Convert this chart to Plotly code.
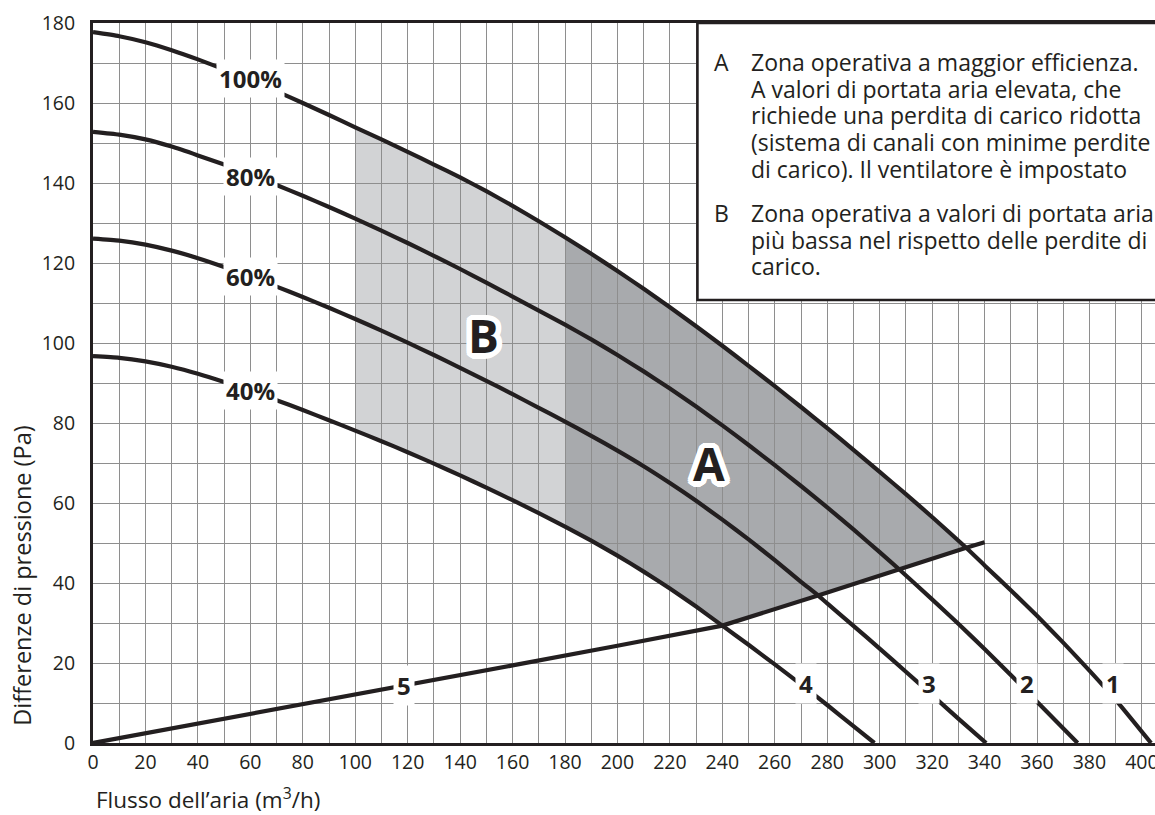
import math
import plotly.graph_objects as go

FONT = "Open Sans"
INK = "#231f20"
GRID = "#8e8e8e"
FILL_B = "#d2d3d5"
FILL_A = "#a8aaad"

# ---------------- data ----------------
curve1_x = [0, 10, 20, 30, 40, 50, 60, 70, 80, 90, 100, 110, 120, 130, 140, 150, 160, 170, 180, 190,
            200, 210, 220, 230, 240, 250, 260, 270, 280, 290, 300, 310, 320, 333, 340, 350, 360, 370,
            380, 390, 403.5]
curve1_y = [177.7, 176.7, 175.2, 173.2, 170.9, 168.4, 165.7, 162.9, 160.0, 157.0, 153.9, 150.9, 147.8,
            144.6, 141.4, 137.95, 134.3, 130.45, 126.45, 122.3, 118.0, 113.55, 108.95, 104.2, 99.3,
            94.3, 89.2, 84.0, 78.7, 73.3, 67.8, 62.2, 56.5, 48.8, 44.4, 38.2, 31.8, 25.1, 18.1, 10.8, 0]

curve2_x = [0, 10, 20, 30, 40, 50, 60, 70, 80, 90, 100, 110, 120, 130, 140, 150, 160, 170, 180, 190,
            200, 210, 220, 230, 240, 250, 260, 270, 280, 290, 300, 307.3, 320, 330, 340, 350, 360, 375.5]
curve2_y = [152.8, 152.1, 150.9, 149.1, 146.9, 144.6, 142.1, 139.5, 136.8, 134.0, 131.1, 128.1, 125.0,
            121.8, 118.5, 115.1, 111.6, 108.1, 104.6, 100.9, 97.0, 92.9, 88.6, 84.1, 79.4, 74.5, 69.45,
            64.25, 58.9, 53.4, 47.7, 43.5, 35.9, 29.8, 23.5, 17.0, 10.3, 0]

curve3_x = [0, 10, 20, 30, 40, 50, 60, 70, 80, 90, 100, 110, 120, 130, 140, 150, 160, 170, 180, 190,
            200, 210, 220, 230, 240, 250, 260, 270, 276.5, 280, 290, 300, 310, 320, 330, 340.6]
curve3_y = [126.1, 125.6, 124.6, 123.1, 121.2, 119.0, 116.6, 114.1, 111.5, 108.8, 106.0, 103.1, 100.1,
            97.0, 93.8, 90.55, 87.2, 83.8, 80.35, 76.8, 73.1, 69.2, 65.0, 60.55, 55.85, 50.9, 45.7,
            40.3, 36.9, 34.9, 29.3, 23.6, 17.8, 12.0, 6.1, 0]

curve4_x = [0, 10, 20, 30, 40, 50, 60, 70, 80, 90, 100, 110, 120, 130, 140, 150, 160, 170, 180, 190,
            200, 210, 220, 230, 240, 250, 260, 270, 280, 290, 298]
curve4_y = [96.7, 96.3, 95.4, 94.05, 92.3, 90.25, 88.05, 85.7, 83.25, 80.7, 78.1, 75.45, 72.7, 69.85,
            66.9, 63.85, 60.7, 57.45, 54.1, 50.6, 46.85, 42.85, 38.6, 34.1, 29.35, 24.55, 19.65, 14.65,
            9.5, 4.2, 0]

line5_x = [0, 40, 80, 120, 160, 200, 240, 276.5, 307.3, 333, 340]
line5_y = [0, 4.8, 9.7, 14.5, 19.4, 24.3, 29.35, 36.9, 43.5, 48.8, 50.2]

pct_labels = ["100%", "80%", "60%", "40%"]
pct_label_x = [60, 60, 60, 60]
pct_label_y = [166.2, 141.6, 116.6, 88.25]
num_labels = ["1", "2", "3", "4", "5"]
num_label_x = [389, 356, 319, 272, 118.5]
num_label_y = [15, 15, 15, 15, 14.4]

zone_B_x = (100, 180)
zone_A_x = (180, 333)
zone_A_knee = 240
zone_labels = {"B": (148.9, 102.0), "A": (235.0, 69.9)}

legend_A_lines = ["Zona operativa a maggior efficienza.",
                  "A valori di portata aria elevata, che",
                  "richiede una perdita di carico ridotta",
                  "(sistema di canali con minime perdite",
                  "di carico). Il ventilatore è impostato"]
legend_B_lines = ["Zona operativa a valori di portata aria",
                  "più bassa nel rispetto delle perdite di",
                  "carico."]

# ---------------- figure ----------------
fig = go.Figure()


def seg(xs, ys, lo, hi):
    return [(x, y) for x, y in zip(xs, ys) if lo <= x <= hi]


def path(pts):
    return "M " + " L ".join(f"{x},{y}" for x, y in pts) + " Z"


poly_B = seg(curve1_x, curve1_y, *zone_B_x) + seg(curve4_x, curve4_y, *zone_B_x)[::-1]
poly_A = (seg(curve1_x, curve1_y, *zone_A_x)
          + seg(line5_x, line5_y, zone_A_knee, zone_A_x[1])[::-1]
          + seg(curve4_x, curve4_y, zone_A_x[0], zone_A_knee)[::-1])

shapes = [
    dict(type="path", path=path(poly_B), xref="x", yref="y", fillcolor=FILL_B,
         line=dict(width=0), layer="below"),
    dict(type="path", path=path(poly_A), xref="x", yref="y", fillcolor=FILL_A,
         line=dict(width=0), layer="below"),
    dict(type="rect", xref="x", yref="y", x0=230.5, x1=410, y0=110.75, y1=180,
         fillcolor="white", line=dict(color=INK, width=2.6), layer="above"),
]

for xs, ys in [(curve1_x, curve1_y), (curve2_x, curve2_y), (curve3_x, curve3_y),
               (curve4_x, curve4_y)]:
    fig.add_trace(go.Scatter(x=xs, y=ys, mode="lines",
                             line=dict(color=INK, width=4.2, shape="spline", smoothing=0.5),
                             hoverinfo="skip", showlegend=False))
fig.add_trace(go.Scatter(x=line5_x, y=line5_y, mode="lines",
                         line=dict(color=INK, width=4.2, shape="linear"),
                         hoverinfo="skip", showlegend=False))

annotations = []
for lab, xv, yv in zip(pct_labels, pct_label_x, pct_label_y):
    annotations.append(dict(x=xv, y=yv, text=f"<b>{lab}</b>", showarrow=False,
                            font=dict(family=FONT, size=24, color=INK), bgcolor="white",
                            borderpad=2))
for lab, xv, yv in zip(num_labels, num_label_x, num_label_y):
    annotations.append(dict(x=xv, y=yv, text=f"<b>{lab}</b>", showarrow=False,
                            font=dict(family=FONT, size=24, color=INK), bgcolor="white",
                            borderpad=3))

offs = []
for r in (2.0, 4.0, 5.5):
    for k in range(20):
        a = 2 * math.pi * k / 20
        offs.append(f"{r * math.cos(a):.2f}px {r * math.sin(a):.2f}px 0 white")
halo = ", ".join(offs)
for lab, (xv, yv) in zone_labels.items():
    annotations.append(dict(x=xv, y=yv, text=f"<b>{lab}</b>", showarrow=False,
                            font=dict(family=FONT, size=46, color=INK, shadow=halo)))


# legend box text: base size 20.5 gives 26.65 px leading, glyphs drawn at 23 px
def block(lines):
    return "<br>".join(f'<span style="font-size:23px">{ln}</span>' for ln in lines)


annotations += [
    dict(x=250.2, y=156.98, text=block(legend_A_lines), xanchor="left", yanchor="middle",
         align="left", showarrow=False, font=dict(family=FONT, size=20.5, color=INK)),
    dict(x=250.2, y=125.76, text=block(legend_B_lines), xanchor="left", yanchor="middle",
         align="left", showarrow=False, font=dict(family=FONT, size=20.5, color=INK)),
    dict(x=236, y=170.33, text="A", xanchor="left", yanchor="middle", showarrow=False,
         font=dict(family=FONT, size=23, color=INK)),
    dict(x=236, y=132.43, text="B", xanchor="left", yanchor="middle", showarrow=False,
         font=dict(family=FONT, size=23, color=INK)),
]

# axis titles
annotations += [
    dict(xref="paper", yref="paper", x=-0.0671, y=0.232, text="Differenze di pressione (Pa)",
         textangle=-90, showarrow=False, xanchor="center", yanchor="middle",
         font=dict(family=FONT, size=23.5, color=INK)),
    dict(xref="paper", yref="paper", x=0.001, y=-0.0775, text="Flusso dell’aria (m<sup>3</sup>/h)",
         showarrow=False, xanchor="left", yanchor="middle",
         font=dict(family=FONT, size=22.5, color=INK)),
]

fig.update_layout(
    width=1155, height=815,
    margin=dict(l=93, r=0, t=23, b=72, pad=0),
    paper_bgcolor="white", plot_bgcolor="white",
    showlegend=False,
    shapes=shapes, annotations=annotations,
    font=dict(family=FONT, color=INK),
)
fig.update_xaxes(range=[0, 405], tick0=0, dtick=20, showgrid=True, gridcolor=GRID, gridwidth=1.3,
                 minor=dict(dtick=10, showgrid=True, gridcolor=GRID, gridwidth=1.3),
                 showline=True, linecolor=INK, linewidth=3, mirror=True, zeroline=False,
                 ticks="", ticklabelstandoff=0, automargin=False, ticklabeloverflow="allow",
                 tickfont=dict(family=FONT, size=19.5, color=INK), fixedrange=True)
fig.update_yaxes(range=[0, 180], tick0=0, dtick=20, showgrid=True, gridcolor=GRID, gridwidth=1.3,
                 minor=dict(dtick=10, showgrid=True, gridcolor=GRID, gridwidth=1.3),
                 showline=True, linecolor=INK, linewidth=3, mirror=False, zeroline=False,
                 ticks="", ticklabelstandoff=11, automargin=False,
                 tickfont=dict(family=FONT, size=19.5, color=INK), fixedrange=True)

fig.write_html("out.html", config={"displayModeBar": False},
               post_script="document.body.style.margin='0';document.body.style.overflow='hidden';")
